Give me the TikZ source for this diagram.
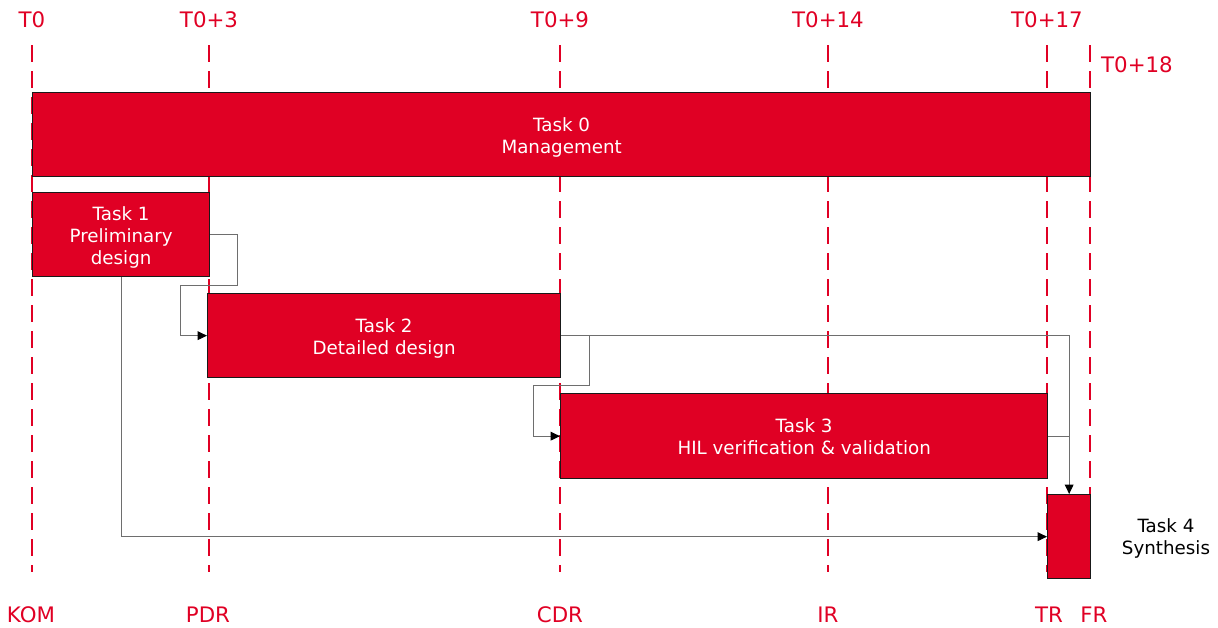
\documentclass[tikz,border=0pt]{standalone}
\usepackage{fontspec}
\setmainfont{DejaVu Sans}
\usetikzlibrary{arrows.meta}
\definecolor{barred}{RGB}{224,0,36}
\definecolor{linegray}{RGB}{110,110,110}
\newcommand{\bartext}[1]{\raisebox{-2.25pt}[\height][\depth]{\begin{tabular}{@{}c@{}}#1\end{tabular}}}
\begin{document}
\begin{tikzpicture}[x=0.75pt,y=-0.75pt,
  milestone/.style={draw=barred,line width=1.5pt,dash pattern=on 13pt off 6.5pt},
  bar/.style={draw=black!90,line width=1pt,fill=barred,text=white,inner sep=0pt,
    anchor=north west,font=\fontsize{13.7}{16.5}\selectfont},
  tlabel/.style={text=barred,inner sep=0pt,font=\fontsize{16}{19}\selectfont},
  conn/.style={draw=linegray,line width=0.75pt},
  arr/.style={conn,-{Triangle[length=7pt,width=6.5pt,color=black]}}]
\useasboundingbox (0,0) rectangle (1218,628);
% milestone lines
\foreach \xx in {32,209,560,828,1047,1090}{
  \draw[milestone] (\xx,45) -- (\xx,572);
}
% top labels
\node[tlabel] (lt0) at (32,20) {T0};
\node[tlabel] (lt3) at (209,20) {T0+3};
\node[tlabel] (lt9) at (560,20) {T0+9};
\node[tlabel] (lt14) at (828,20) {T0+14};
\node[tlabel] (lt17) at (1047,20) {T0+17};
\node[tlabel] (lt18) at (1137,65) {T0+18};
% bottom labels
\node[tlabel] (lkom) at (31,615) {KOM};
\node[tlabel] (lpdr) at (208,615) {PDR};
\node[tlabel] (lcdr) at (560,615) {CDR};
\node[tlabel] (lir) at (828,615) {IR};
\node[tlabel] (ltr) at (1049,615) {TR};
\node[tlabel] (lfr) at (1094,615) {FR};
% bars
\node[bar,minimum width=793.5pt,minimum height=63pt] (t0) at (32,92) {\bartext{Task 0\\Management}};
\node[bar,minimum width=132.75pt,minimum height=63pt] (t1) at (32,192) {\bartext{Task 1\\Preliminary\\design}};
\node[bar,minimum width=264.75pt,minimum height=63pt] (t2) at (207,293) {\bartext{Task 2\\Detailed design}};
\node[bar,minimum width=365.25pt,minimum height=63.75pt] (t3) at (560,393) {\bartext{Task 3\\HIL verification \& validation}};
\node[bar,minimum width=32.25pt,minimum height=63pt] (t4) at (1047,494) {};
\node[align=center,inner sep=0pt,font=\fontsize{13.7}{16.5}\selectfont] (t4l) at (1166,538) {Task 4\\Synthesis};
% connectors
\draw[arr] (t1.east) -- ++(27,0) -- ++(0,51) -- ++(-57,0) |- (t2.west);
\draw[arr] (t2.east) -- ++(28,0) -- ++(0,50) -- ++(-56,0) |- (t3.west);
\draw[conn] (t3.east) -- (t3.east -| t4.north);
\draw[arr] (t2.east) -| (t4.north);
\draw[arr] (t1.south) |- (t4.west);
\end{tikzpicture}
\end{document}
